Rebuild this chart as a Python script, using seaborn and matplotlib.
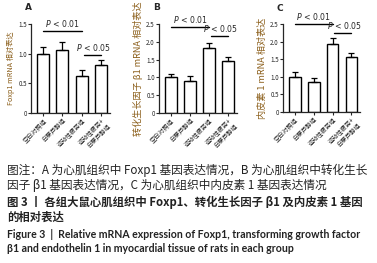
import numpy as np
import pandas as pd
import seaborn as sns
import matplotlib
matplotlib.use('Agg')
import matplotlib.pyplot as plt

sns.set_style('ticks')
plt.rcParams['font.family'] = ['Noto Sans CJK SC', 'DejaVu Sans']

groups = ['空白对照组', '白藜芦醇组', '运动性疲劳组', '运动性疲劳+\n白藜芦醇组']

foxp1_mean = [1.00, 1.07, 0.63, 0.81]
foxp1_err = [0.11, 0.12, 0.09, 0.08]
tgf_mean = [1.00, 0.91, 1.83, 1.45]
tgf_err = [0.10, 0.13, 0.15, 0.12]
et1_mean = [0.99, 0.86, 1.94, 1.56]
et1_err = [0.14, 0.10, 0.16, 0.11]

ylabels = ['Foxp1 mRNA 相对表达', '转化生长因子 β1 mRNA 相对表达', '内皮素 1 mRNA 相对表达']
ylab_sizes = [5.2, 6.6, 6.6]
letters = ['A', 'B', 'C']
ymaxs = [1.5, 2.5, 2.5]
# significance line heights (long: group1-group3, short: group3-group4)
sig_long = [1.38, 2.41, 2.50]
sig_short = [0.98, 2.16, 2.25]

W, H = 377, 263
fig = plt.figure(figsize=(W / 100, H / 100), dpi=100)

# axes boxes in pixels: left, top(1.5/2.5 line), right, bottom(0 line)
boxes = [(31, 24, 110, 113), (159, 24, 237, 113), (283, 24, 360, 112)]
ylab_color = '#8B5E1A'

panels = [(foxp1_mean, foxp1_err), (tgf_mean, tgf_err), (et1_mean, et1_err)]
for i, (m, e) in enumerate(panels):
    l, t, r, b = boxes[i]
    ax = fig.add_axes([l / W, 1 - b / H, (r - l) / W, (b - t) / H])
    df = pd.DataFrame({'group': groups, 'value': m})
    sns.barplot(data=df, x='group', y='value', ax=ax, color='white',
                edgecolor='black', linewidth=1.0, width=0.62, errorbar=None)
    ax.errorbar(range(4), m, yerr=[np.zeros(4), e], fmt='none',
                ecolor='black', elinewidth=0.9, capsize=2.2, capthick=0.9)
    ax.set_ylim(0, ymaxs[i])
    ax.set_xlim(-0.62, 3.45)
    ax.set_yticks(np.arange(0, ymaxs[i] + 0.01, 0.5))
    ax.set_yticklabels(['0'] + [f'{v:.1f}' for v in np.arange(0.5, ymaxs[i] + 0.01, 0.5)])
    ax.tick_params(axis='y', labelsize=4.5, length=2, width=0.8, pad=1)
    ax.tick_params(axis='x', labelsize=4.4, length=2, width=0.8, pad=1)
    plt.setp(ax.get_xticklabels(), rotation=45, ha='right', rotation_mode='anchor',
             linespacing=0.95)
    ax.set_xlabel('')
    ax.set_ylabel(ylabels[i], fontsize=ylab_sizes[i], color=ylab_color, labelpad=2)
    for s in ['left', 'bottom']:
        ax.spines[s].set_linewidth(0.9)
    sns.despine(ax=ax)

    # significance bars
    ax.plot([0, 2], [sig_long[i]] * 2, color='black', lw=1.0, clip_on=False)
    ax.text(1, sig_long[i] + ymaxs[i] * 0.025, '$P$ < 0.01', ha='center', va='bottom',
            fontsize=5.6, family='DejaVu Sans')
    ax.plot([2.1, 3.0], [sig_short[i]] * 2, color='black', lw=1.0, clip_on=False)
    ax.text(2.6, sig_short[i] + ymaxs[i] * 0.025, '$P$ < 0.05', ha='center', va='bottom',
            fontsize=5.6, family='DejaVu Sans')

    ax.text(-0.08, 1.13, letters[i], transform=ax.transAxes, fontsize=6.5,
            fontweight='bold', family='DejaVu Sans', ha='left', va='bottom')

cjk = ['Noto Sans CJK SC', 'DejaVu Sans']
latin = ['Lato', 'DejaVu Sans']
cap_lines = [
    ('图注：A 为心肌组织中 Foxp1 基因表达情况，B 为心肌组织中转化生长', 'normal', 170, cjk, 8.4),
    ('因子 β1 基因表达情况，C 为心肌组织中内皮素 1 基因表达情况', 'normal', 186, cjk, 8.4),
    ('图 3 丨 各组大鼠心肌组织中 Foxp1、转化生长因子 β1 及内皮素 1 基因', 'bold', 202, cjk, 8.2),
    ('的相对表达', 'bold', 217, cjk, 8.2),
    ('Figure 3  |  Relative mRNA expression of Foxp1, transforming growth factor', 'bold', 234, latin, 7.6),
    ('β1 and endothelin 1 in myocardial tissue of rats in each group', 'bold', 249, latin, 7.6),
]
for txt, wt, y, fam, fs in cap_lines:
    fig.text(7 / W, 1 - y / H, txt, fontsize=fs, fontweight=wt, color='#222222',
             ha='left', va='center', family=fam)

fig.savefig('out.png', dpi=100)
